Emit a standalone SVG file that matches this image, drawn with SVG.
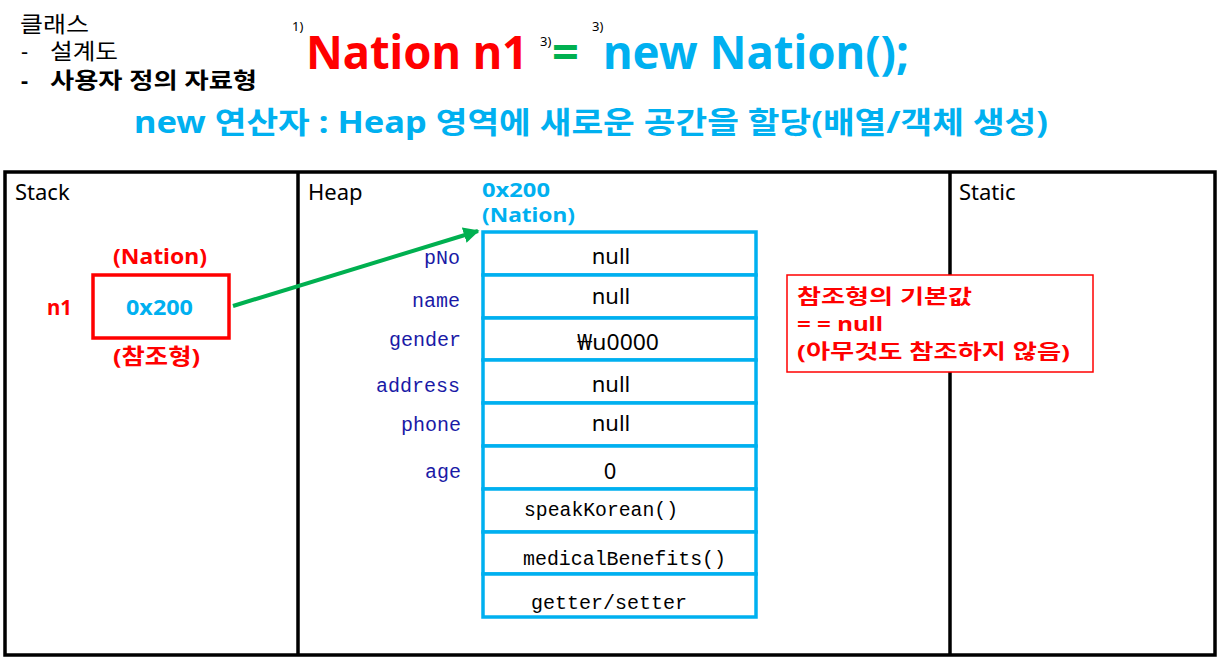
<svg xmlns="http://www.w3.org/2000/svg" width="1219" height="657" viewBox="0 0 1219 657">
<style>
text{font-family:"Noto Sans","Noto Sans CJK KR",sans-serif;}
.ko{font-size:22px;fill:#000;}
.sec{font-size:22px;fill:#000;}
.b{font-weight:bold;}
.mono{font-family:"Liberation Mono","DejaVu Sans Mono",monospace;font-size:20px;}
.lab{fill:#1a1aa6;text-anchor:end;}
.val{font-size:22px;fill:#000;text-anchor:middle;}
.sb{font-size:22px;font-weight:bold;}
.hb{font-size:20px;font-weight:bold;}
.note{font-size:20px;font-weight:bold;fill:#ff0000;}
.cell{fill:#fff;stroke:#00b0f0;stroke-width:3.5;}
.frame{fill:none;stroke:#000;stroke-width:3.5;}
</style>
<defs>
<marker id="ah" viewBox="0 0 10 10" refX="9" refY="5" markerWidth="4" markerHeight="4" orient="auto" markerUnits="strokeWidth">
<path d="M0,0 L10,5 L0,10 z" fill="#00b050"/>
</marker>
</defs>
<rect width="1219" height="657" fill="#fff"/>

<g id="header">
<text class="ko" x="20" y="32" textLength="69" lengthAdjust="spacingAndGlyphs">클래스</text>
<text class="ko" x="21" y="59">-</text>
<text class="ko" x="50" y="59" textLength="68" lengthAdjust="spacingAndGlyphs">설계도</text>
<text class="ko b" x="21" y="88">-</text>
<text class="ko b" x="50" y="88" textLength="207" lengthAdjust="spacingAndGlyphs">사용자 정의 자료형</text>
<text x="292" y="31" font-size="13">1)</text>
<text x="306" y="69" font-size="47" font-weight="bold" fill="#ff0000" textLength="222" lengthAdjust="spacingAndGlyphs">Nation n1</text>
<text x="540" y="46" font-size="13">3)</text>
<text x="552" y="69" font-size="47" font-weight="bold" fill="#00b050">=</text>
<text x="592" y="31" font-size="13">3)</text>
<text x="603" y="69" font-size="47" font-weight="bold" fill="#00b0f0" textLength="306" lengthAdjust="spacingAndGlyphs">new Nation();</text>
<text x="134" y="133" font-size="30" font-weight="bold" fill="#00b0f0" textLength="914" lengthAdjust="spacingAndGlyphs">new 연산자 : Heap 영역에 새로운 공간을 할당(배열/객체 생성)</text>
</g>

<g id="frame">
<rect class="frame" x="5" y="172" width="1210" height="483"/>
<line x1="298" y1="172" x2="298" y2="655" stroke="#000" stroke-width="3.5"/>
<line x1="950" y1="172" x2="950" y2="655" stroke="#000" stroke-width="3.5"/>
<text class="sec" x="15" y="200">Stack</text>
<text class="sec" x="308" y="200">Heap</text>
<text class="sec" x="959" y="200">Static</text>
</g>

<g id="stack-var">
<text class="sb" x="113" y="264" fill="#ff0000" textLength="94" lengthAdjust="spacingAndGlyphs">(Nation)</text>
<rect x="93" y="275" width="136" height="63" fill="#fff" stroke="#ff0000" stroke-width="3.5"/>
<text class="sb" x="126" y="315" fill="#00b0f0" textLength="67" lengthAdjust="spacingAndGlyphs">0x200</text>
<text class="sb" x="47" y="315" fill="#ff0000" textLength="25" lengthAdjust="spacingAndGlyphs">n1</text>
<text class="sb" x="113" y="364" fill="#ff0000" textLength="87" lengthAdjust="spacingAndGlyphs">(참조형)</text>
</g>

<g id="heap-object">
<text class="hb" x="482" y="197" fill="#00b0f0" textLength="68" lengthAdjust="spacingAndGlyphs">0x200</text>
<text class="hb" x="482" y="222" fill="#00b0f0" textLength="93" lengthAdjust="spacingAndGlyphs">(Nation)</text>
<rect class="cell" x="483" y="232" width="273" height="43"/>
<rect class="cell" x="483" y="275" width="273" height="43"/>
<rect class="cell" x="483" y="318" width="273" height="42"/>
<rect class="cell" x="483" y="360" width="273" height="43"/>
<rect class="cell" x="483" y="403" width="273" height="43"/>
<rect class="cell" x="483" y="446" width="273" height="43"/>
<rect class="cell" x="483" y="489" width="273" height="43"/>
<rect class="cell" x="483" y="532" width="273" height="42"/>
<rect class="cell" x="483" y="574" width="273" height="43"/>
<text class="mono lab" x="460" y="264">pNo</text>
<text class="mono lab" x="460" y="307">name</text>
<text class="mono lab" x="461" y="346">gender</text>
<text class="mono lab" x="460" y="392">address</text>
<text class="mono lab" x="461" y="431">phone</text>
<text class="mono lab" x="461" y="478">age</text>
<text class="val" x="611" y="264">null</text>
<text class="val" x="611" y="304">null</text>
<text class="val" x="618" y="350" textLength="82" lengthAdjust="spacingAndGlyphs">₩u0000</text>
<text class="val" x="611" y="392">null</text>
<text class="val" x="611" y="431">null</text>
<text class="val" x="610" y="479">0</text>
<text class="mono" x="524" y="516" fill="#000" textLength="154" lengthAdjust="spacingAndGlyphs">speakKorean()</text>
<text class="mono" x="523" y="565" fill="#000" textLength="203" lengthAdjust="spacingAndGlyphs">medicalBenefits()</text>
<text class="mono" x="531" y="609" fill="#000" textLength="156" lengthAdjust="spacingAndGlyphs">getter/setter</text>
</g>

<g id="note">
<rect x="787" y="275" width="306" height="97" fill="#fff" stroke="#ff0000" stroke-width="1.5"/>
<text class="note" x="797" y="304" textLength="175" lengthAdjust="spacingAndGlyphs">참조형의 기본값</text>
<text class="note" x="797" y="331" textLength="86" lengthAdjust="spacingAndGlyphs">= = null</text>
<text class="note" x="797" y="359" textLength="273" lengthAdjust="spacingAndGlyphs">(아무것도 참조하지 않음)</text>
</g>

<g id="connectors">
<line x1="233" y1="306" x2="478" y2="231" stroke="#00b050" stroke-width="4" marker-end="url(#ah)"/>
</g>
</svg>
